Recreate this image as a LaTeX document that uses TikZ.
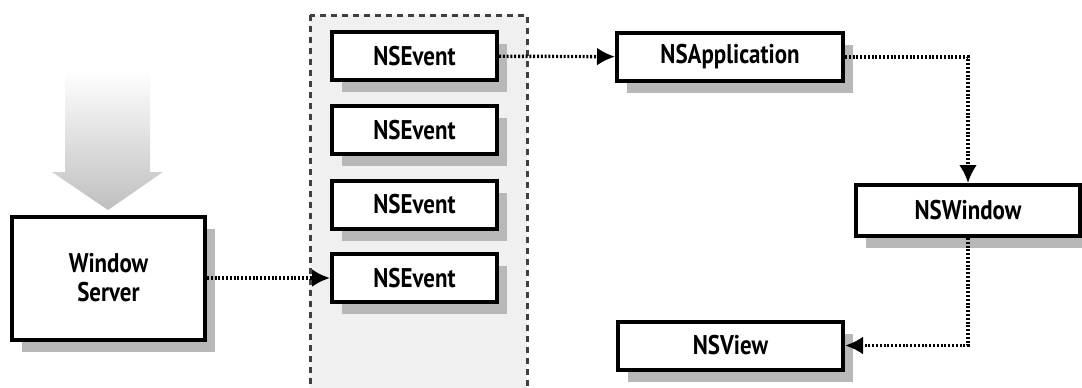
\documentclass[tikz,border=0pt]{standalone}
\usepackage{fontspec}
\setmainfont{PT Sans}[FakeStretch=0.85]
\usetikzlibrary{arrows.meta,shadows}

\tikzset{
  objbox/.style={draw, line width=2pt, fill=white, font=\bfseries\fontsize{13.5}{14.5}\selectfont,
    minimum height=24pt, inner sep=0pt, align=center,
    drop shadow={shadow xshift=5pt, shadow yshift=-6pt, fill=black!28, opacity=1}},
  msg/.style={dash pattern=on 1pt off 0.9pt, line width=1.7pt, -{Latex[length=9pt,width=9pt]}},
}

\begin{document}
\begin{tikzpicture}[x=0.5pt, y=-0.5pt]
    \useasboundingbox (0,0) rectangle (1082,387);

    % incoming events
    \shade[top color=white, bottom color=black!25]
        (65,70) -- (150,70) -- (150,172) -- (163,172) -- (108,210) -- (52,172) -- (65,172) -- cycle;

    % event queue
    \draw[dash pattern=on 3pt off 2.5pt, line width=1.5pt, draw=black!75, fill=black!6] (310,15) rectangle (527,400);

    \node[objbox, minimum width=96.5pt, minimum height=61.5pt] (ws) at (108.5,278) {Window\\Server};

    \node[objbox, minimum width=82.5pt] (ev1) at (414.5,56) {NSEvent};
    \node[objbox, minimum width=82.5pt] (ev2) at (414.5,130) {NSEvent};
    \node[objbox, minimum width=82.5pt] (ev3) at (414.5,204.5) {NSEvent};
    \node[objbox, minimum width=82.5pt] (ev4) at (414.5,278) {NSEvent};

    \node[objbox, minimum width=113pt] (app) at (730,57) {NSApplication};
    \node[objbox, minimum width=112pt, minimum height=25.5pt] (win) at (968,210.5) {NSWindow};
    \node[objbox, minimum width=112.5pt] (view) at (730.5,345.5) {NSView};

    \draw[msg] (ws) -- (ev4);
    \draw[msg] (ev1) -- (app);
    \draw[msg] (app.east) -| (win.north);
    \draw[msg] (win.south) |- (view.east);
\end{tikzpicture}
\end{document}
